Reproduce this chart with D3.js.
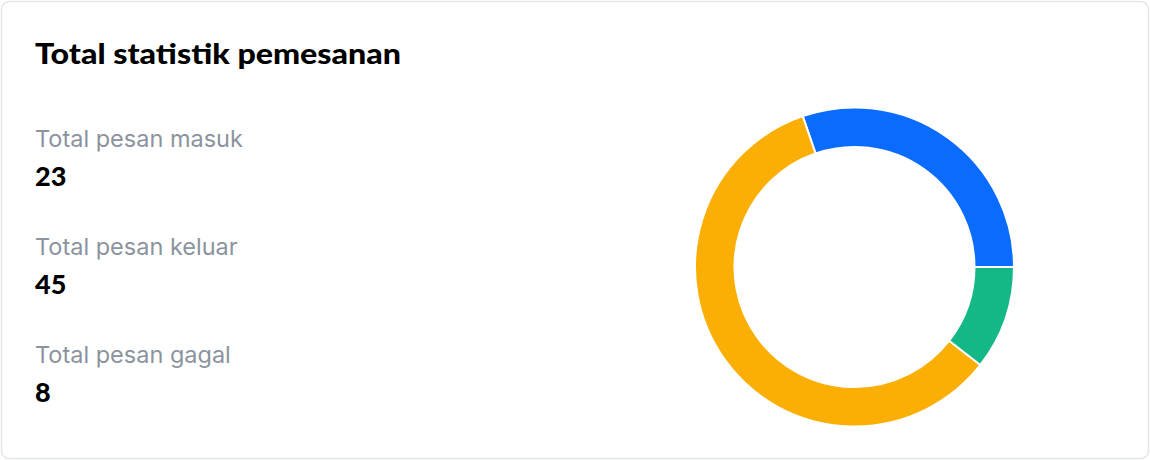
<!DOCTYPE html>
<html>
<head>
<meta charset="utf-8">
<script src="https://cdn.jsdelivr.net/npm/d3@7"></script>
<style>
  html, body { margin: 0; padding: 0; background: #ffffff; }
  svg { display: block; }
</style>
</head>
<body>
<div id="chart"></div>
<script>
// data
const labels = ["Total pesan masuk", "Total pesan keluar", "Total pesan gagal"];
const values = [23, 45, 8];
const colors = ["#0a6cff", "#fbaf04", "#13b886"];
const title = "Total statistik pemesanan";

const w = 1150;
const h = 460;

const svg = d3.select("#chart")
    .append("svg")
    .attr("width", w)
    .attr("height", h);

// card
svg.append("rect")
    .attr("x", 1.5)
    .attr("y", 1.5)
    .attr("width", w - 3)
    .attr("height", h - 3)
    .attr("rx", 8)
    .attr("fill", "#fff")
    .attr("stroke", "#e3e5e8")
    .attr("stroke-width", 1.5);

svg.append("text")
    .attr("x", 35)
    .attr("y", 64)
    .text(title)
    .style("font-family", "Lato, sans-serif")
    .style("font-weight", 900)
    .style("font-size", "29px")
    .attr("fill", "#000")
    .attr("textLength", 366)
    .attr("lengthAdjust", "spacingAndGlyphs");

// stats on the left
const rows = svg.append("g")
    .selectAll("g")
    .data(labels)
    .enter()
    .append("g")
    .attr("transform", (d, i) => `translate(35, ${147 + i * 108})`);

rows.append("text")
    .text(d => d)
    .style("font-family", "Inter, sans-serif")
    .style("font-size", "23.5px")
    .attr("fill", "#8a939e");

rows.append("text")
    .attr("y", 39)
    .text((d, i) => values[i])
    .style("font-family", "Lato, sans-serif")
    .style("font-weight", 900)
    .style("font-size", "27px")
    .attr("fill", "#000");

// donut
const pie = d3.pie()
    .sort(null)
    .value(d => d)
    .startAngle(Math.PI / 2)
    .endAngle(Math.PI / 2 - 2 * Math.PI);

const arc = d3.arc()
    .innerRadius(120)
    .outerRadius(159.5);

svg.append("g")
    .attr("transform", "translate(854.5, 267)")
    .selectAll("path")
    .data(pie(values))
    .enter()
    .append("path")
    .attr("d", arc)
    .attr("fill", (d, i) => colors[i])
    .attr("stroke", "#fff")
    .attr("stroke-width", 2);
</script>
</body>
</html>
